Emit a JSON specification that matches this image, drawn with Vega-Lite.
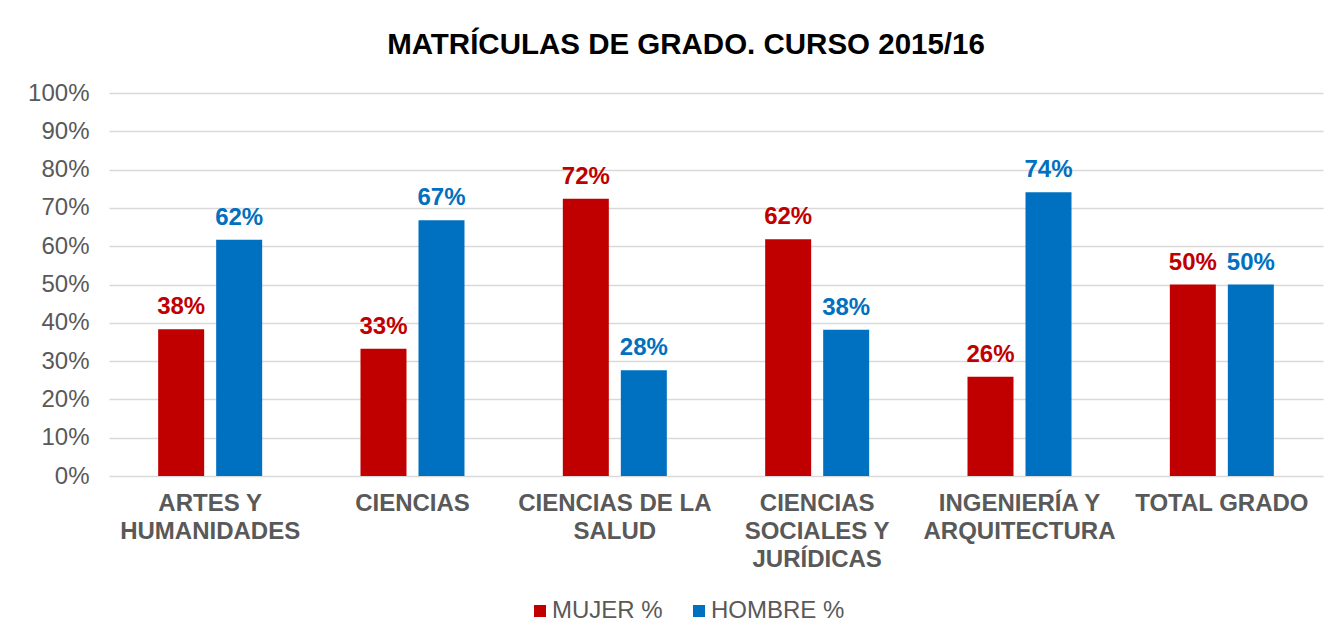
{
  "$schema": "https://vega.github.io/schema/vega-lite/v6.json",
  "width": 1214,
  "height": 383,
  "padding": {"left": 27, "top": 29, "right": 21, "bottom": 5},
  "background": "#ffffff",
  "title": {
    "text": "MATRÍCULAS DE GRADO. CURSO 2015/16",
    "font": "Liberation Sans",
    "fontSize": 29.5,
    "fontWeight": "bold",
    "color": "#000000",
    "anchor": "middle",
    "dx": -30,
    "offset": 21
  },
  "data": {
    "values": [
      {"categoria": "ARTES Y HUMANIDADES", "sexo": "MUJER %", "valor": 0.383},
      {"categoria": "ARTES Y HUMANIDADES", "sexo": "HOMBRE %", "valor": 0.617},
      {"categoria": "CIENCIAS", "sexo": "MUJER %", "valor": 0.332},
      {"categoria": "CIENCIAS", "sexo": "HOMBRE %", "valor": 0.668},
      {"categoria": "CIENCIAS DE LA SALUD", "sexo": "MUJER %", "valor": 0.724},
      {"categoria": "CIENCIAS DE LA SALUD", "sexo": "HOMBRE %", "valor": 0.276},
      {"categoria": "CIENCIAS SOCIALES Y JURÍDICAS", "sexo": "MUJER %", "valor": 0.618},
      {"categoria": "CIENCIAS SOCIALES Y JURÍDICAS", "sexo": "HOMBRE %", "valor": 0.382},
      {"categoria": "INGENIERÍA Y ARQUITECTURA", "sexo": "MUJER %", "valor": 0.259},
      {"categoria": "INGENIERÍA Y ARQUITECTURA", "sexo": "HOMBRE %", "valor": 0.741},
      {"categoria": "TOTAL GRADO", "sexo": "MUJER %", "valor": 0.50},
      {"categoria": "TOTAL GRADO", "sexo": "HOMBRE %", "valor": 0.50}
    ]
  },
  "encoding": {
    "x": {
      "field": "categoria",
      "type": "nominal",
      "sort": null,
      "scale": {"paddingInner": 0.486, "paddingOuter": 0.243},
      "axis": {
        "title": null,
        "labelAngle": 0,
        "domain": false,
        "ticks": false,
        "labelFont": "Liberation Sans",
        "labelFontSize": 24,
        "labelFontWeight": "bold",
        "labelColor": "#595959",
        "labelLimit": 400,
        "labelPadding": 15,
        "labelLineHeight": 28,
        "labelBaseline": "top",
        "labelExpr": "datum.label == 'ARTES Y HUMANIDADES' ? ['ARTES Y', 'HUMANIDADES'] : datum.label == 'CIENCIAS DE LA SALUD' ? ['CIENCIAS DE LA', 'SALUD'] : datum.label == 'CIENCIAS SOCIALES Y JURÍDICAS' ? ['CIENCIAS', 'SOCIALES Y', 'JURÍDICAS'] : datum.label == 'INGENIERÍA Y ARQUITECTURA' ? ['INGENIERÍA Y', 'ARQUITECTURA'] : datum.label"
      }
    },
    "xOffset": {
      "field": "sexo",
      "type": "nominal",
      "sort": ["MUJER %", "HOMBRE %"],
      "scale": {"paddingInner": 0.207, "paddingOuter": 0}
    },
    "y": {
      "field": "valor",
      "type": "quantitative",
      "scale": {"domain": [0, 1], "nice": false},
      "axis": {
        "title": null,
        "format": ".0%",
        "values": [0, 0.1, 0.2, 0.3, 0.4, 0.5, 0.6, 0.7, 0.8, 0.9, 1],
        "domain": false,
        "ticks": false,
        "grid": true,
        "gridColor": "#d9d9d9",
        "gridWidth": 1.5,
        "labelFont": "Liberation Sans",
        "labelFontSize": 24,
        "labelColor": "#595959",
        "labelPadding": 20
      }
    },
    "color": {
      "field": "sexo",
      "type": "nominal",
      "sort": ["MUJER %", "HOMBRE %"],
      "scale": {"domain": ["MUJER %", "HOMBRE %"], "range": ["#C00000", "#0070C0"]},
      "legend": {
        "title": null,
        "orient": "none",
        "legendX": 419,
        "legendY": 506,
        "direction": "horizontal",
        "symbolType": "square",
        "symbolSize": 144,
        "symbolStrokeWidth": 0,
        "labelFont": "Liberation Sans",
        "labelFontSize": 24,
        "labelColor": "#595959",
        "labelOffset": 0,
        "columnPadding": 24
      }
    }
  },
  "layer": [
    {"mark": {"type": "bar"}},
    {
      "mark": {
        "type": "text",
        "font": "Liberation Sans",
        "fontSize": 24,
        "fontWeight": "bold",
        "baseline": "alphabetic",
        "dy": -15
      },
      "encoding": {
        "text": {"field": "valor", "type": "quantitative", "format": ".0%"}
      }
    }
  ],
  "config": {
    "view": {"stroke": null}
  }
}
